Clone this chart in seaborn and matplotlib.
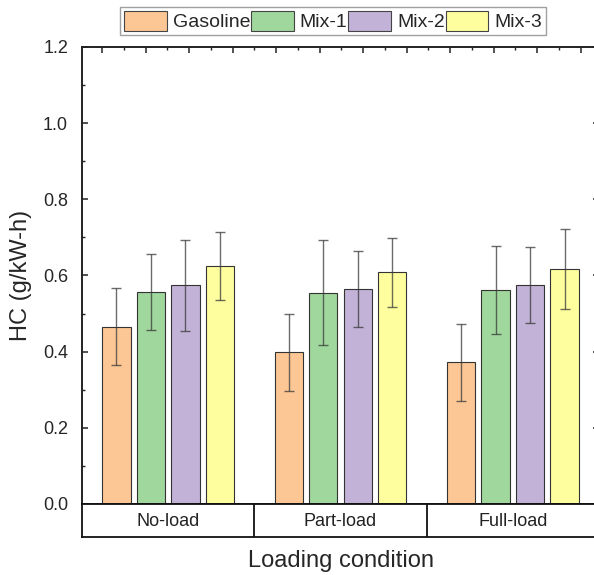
import numpy as np
import pandas as pd
import seaborn as sns
import matplotlib.pyplot as plt
import matplotlib.ticker as ticker

# data
conditions = ['No-load', 'Part-load', 'Full-load']
fuels = ['Gasoline', 'Mix-1', 'Mix-2', 'Mix-3']
gasoline = [0.466, 0.398, 0.372]
mix1 = [0.557, 0.555, 0.562]
mix2 = [0.574, 0.565, 0.574]
mix3 = [0.624, 0.608, 0.616]
gasoline_err = [0.100, 0.100, 0.101]
mix1_err = [0.100, 0.138, 0.115]
mix2_err = [0.119, 0.100, 0.100]
mix3_err = [0.089, 0.090, 0.105]

colors = ['#FCC795', '#9FD79C', '#C2B2D7', '#FFFE9E']

values = [gasoline, mix1, mix2, mix3]
errors = [gasoline_err, mix1_err, mix2_err, mix3_err]
df = pd.DataFrame({
    'condition': np.tile(conditions, len(fuels)),
    'fuel': np.repeat(fuels, len(conditions)),
    'hc': np.concatenate(values),
})

sns.set_style('ticks')
plt.rcParams['font.family'] = ['Liberation Sans', 'DejaVu Sans']

fig = plt.figure(figsize=(5.94, 5.75), dpi=100)
ax = fig.add_axes([82 / 594, 71 / 575, 517 / 594, 457 / 575])
box = fig.add_axes([82 / 594, 38 / 575, 517 / 594, 33 / 575])

sns.barplot(data=df, x='condition', y='hc', hue='fuel', order=conditions,
            hue_order=fuels, palette=colors, saturation=1, width=0.8, gap=0.175,
            errorbar=None, edgecolor='#333333', linewidth=0.8, ax=ax)

# error bars at the bar centres
for cont, err in zip(ax.containers, errors):
    xs = [p.get_x() + p.get_width() / 2 for p in cont]
    ys = [p.get_height() for p in cont]
    ax.errorbar(xs, ys, yerr=err, fmt='none', ecolor='#3a3a3a', elinewidth=1.0,
                capsize=3.3, capthick=1.0, alpha=0.75)

ax.set_xlim(-0.5, 2.5)
ax.set_ylim(0, 1.2)
ax.yaxis.set_major_locator(ticker.MultipleLocator(0.2))
ax.yaxis.set_minor_locator(ticker.MultipleLocator(0.1))
ax.yaxis.set_major_formatter(ticker.FormatStrFormatter('%.1f'))
top_major = -0.384 + 0.2525 * np.arange(12)
ax.xaxis.set_major_locator(ticker.FixedLocator(top_major))
ax.xaxis.set_minor_locator(ticker.FixedLocator(top_major + 0.12625))
ax.tick_params(axis='x', which='both', bottom=False, top=True, labelbottom=False,
               direction='in')
ax.tick_params(axis='y', which='both', left=True, right=True, direction='in')
ax.tick_params(which='major', length=4.5, width=1.1, labelsize=13, color='#222222')
ax.tick_params(which='minor', length=2.3, width=1.0, color='#222222')
ax.tick_params(axis='y', pad=10)
for s in ax.spines.values():
    s.set_linewidth(1.4)
    s.set_color('#222222')
ax.set_xlabel('')
ax.set_ylabel('HC (g/kW-h)', fontsize=17, labelpad=8)

# category table below the plot
box.set_xlim(-0.5, 2.5)
box.set_ylim(0, 1)
box.set_xticks([])
box.set_yticks([])
for s in box.spines.values():
    s.set_linewidth(1.3)
    s.set_color('#111111')
for b in [0.5, 1.5]:
    box.axvline(b, color='#111111', lw=1.3)
for i, c in enumerate(conditions):
    box.text(i, 0.48, c, ha='center', va='center', fontsize=13, color='#222222')
box.set_xlabel('Loading condition', fontsize=17, labelpad=9)

# legend across the top
ax.legend_.remove()
handles = [plt.Rectangle((0, 0), 1, 1, facecolor=c, edgecolor='#444444', lw=0.8)
           for c in colors]
fig.legend(handles, fuels, loc='upper left', bbox_to_anchor=(120 / 594, 1 - 7 / 575),
           ncol=4, fontsize=14, frameon=True, fancybox=False, edgecolor='#888888',
           handlelength=2.2, handleheight=1.2, handletextpad=0.3, columnspacing=0.05,
           borderpad=0.2, borderaxespad=0)

fig.savefig('out.png', dpi=100)
